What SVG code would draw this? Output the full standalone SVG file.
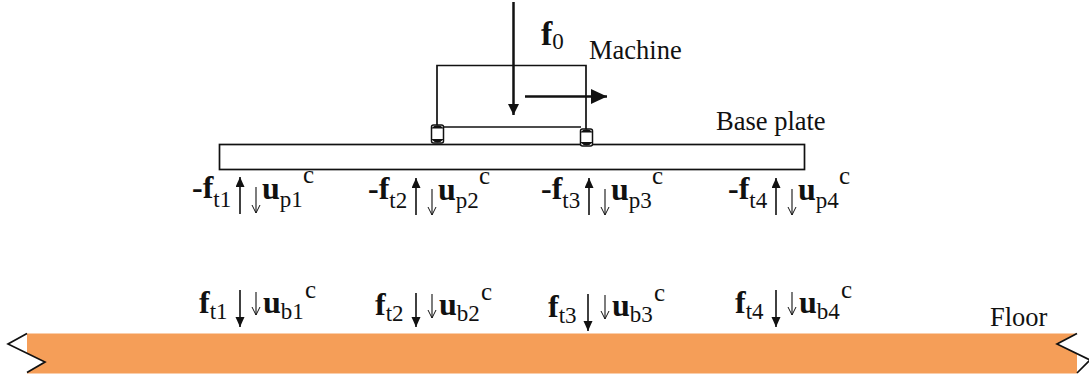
<svg xmlns="http://www.w3.org/2000/svg" width="1089" height="381" viewBox="0 0 1089 381">
<style>
text{font-family:"Liberation Serif","Times New Roman",serif;fill:#111}
.m{font-size:26.500px}
.b{font-size:32px;font-weight:bold}
.s{font-size:23px;font-weight:normal}
.c{font-size:25px}
.l{fill:none;stroke:#111;stroke-width:1.700}
.t{stroke:#111;stroke-width:1.600;fill:none}
.h{stroke:#111;stroke-width:1.100;fill:none}
</style>
<defs>
<marker id="big" markerUnits="userSpaceOnUse" markerWidth="18" markerHeight="16" refX="16" refY="7.500" orient="auto"><path d="M0 0L16 7.500L0 15Z" fill="#111"/></marker>
<marker id="head" markerUnits="userSpaceOnUse" markerWidth="13" markerHeight="13" refX="11" refY="5.500" orient="auto"><path d="M0 0L11 5.500L0 11Z" fill="#111"/></marker>
<marker id="med" markerUnits="userSpaceOnUse" markerWidth="12" markerHeight="12" refX="10" refY="4.500" orient="auto"><path d="M0 0L10 4.500L0 9Z" fill="#111"/></marker>
<marker id="thin" markerUnits="userSpaceOnUse" markerWidth="12" markerHeight="12" refX="9" refY="5" orient="auto"><path d="M1 1L9 5L1 9" fill="none" stroke="#111" stroke-width="1"/></marker>
</defs>
<g id="floor">
<path d="M27 333.500H1077L1057 344L1077 354V373.500H27V372.500L45 362L27 353Z" fill="#f59e58"/>
<path class="l" d="M27 333.500L8 344L45 362L27 372.500"/>
<path class="l" d="M1077 333.500L1057 344L1090 360L1077 373"/>
<text class="m" x="990" y="326">Floor</text>
</g>
<g id="base-plate">
<rect class="l" x="219.500" y="144.500" width="585" height="25" fill="#fff"/>
<text class="m" x="716" y="130">Base plate</text>
</g>
<g id="machine">
<path class="l" d="M437 128V65.500H586V130"/>
<path class="l" d="M443 127H581"/>
<text class="m" x="589" y="59">Machine</text>
</g>
<g id="mount-left">
<rect x="431.500" y="125" width="12" height="18" rx="2" fill="#fff" stroke="#111" stroke-width="1.500"/>
<path d="M431 128.500Q437.500 122 444 128.500ZM431 139Q437.500 146 444 139Z" fill="#111"/>
</g>
<g id="mount-right">
<rect x="580.500" y="129" width="12" height="17" rx="2" fill="#fff" stroke="#111" stroke-width="1.500"/>
<path d="M580 132.500Q586.500 126 593 132.500ZM580 142Q586.500 149 593 142Z" fill="#111"/>
</g>
<g id="connectors">
<path d="M513.500 2V115" stroke="#111" stroke-width="2.500" marker-end="url(#head)"/>
<path d="M525 96.500H607" stroke="#111" stroke-width="2.500" marker-end="url(#big)"/>
<path class="t" d="M240 214V177" marker-end="url(#med)"/>
<path class="t" d="M416 215V178" marker-end="url(#med)"/>
<path class="t" d="M589 215V178" marker-end="url(#med)"/>
<path class="t" d="M776 215V178" marker-end="url(#med)"/>
<path class="h" d="M256 187V213" marker-end="url(#thin)"/>
<path class="h" d="M432 189V215" marker-end="url(#thin)"/>
<path class="h" d="M605 189V215" marker-end="url(#thin)"/>
<path class="h" d="M792 189V215" marker-end="url(#thin)"/>
<path class="t" d="M240 290V327" marker-end="url(#med)"/>
<path class="t" d="M416 293V327" marker-end="url(#med)"/>
<path class="t" d="M588 294V331" marker-end="url(#med)"/>
<path class="t" d="M776 290V327" marker-end="url(#med)"/>
<path class="h" d="M256 292V315" marker-end="url(#thin)"/>
<path class="h" d="M432 294V318" marker-end="url(#thin)"/>
<path class="h" d="M605 295V319" marker-end="url(#thin)"/>
<path class="h" d="M792 292V315" marker-end="url(#thin)"/>
</g>
<g id="label-f0"><text class="b" x="541" y="45" style="font-size:34px">f<tspan class="s" dy="4">0</tspan></text></g>
<g id="label-p1"><text class="b" x="192" y="198">-f<tspan class="s" dy="9">t1</tspan></text><text class="b" x="262" y="199">u<tspan class="s" dy="8">p1</tspan></text><text class="c" x="303" y="183">c</text></g>
<g id="label-p2"><text class="b" x="368" y="199">-f<tspan class="s" dy="9">t2</tspan></text><text class="b" x="438" y="200">u<tspan class="s" dy="8">p2</tspan></text><text class="c" x="479" y="184">c</text></g>
<g id="label-p3"><text class="b" x="541" y="199">-f<tspan class="s" dy="9">t3</tspan></text><text class="b" x="611" y="200">u<tspan class="s" dy="8">p3</tspan></text><text class="c" x="652" y="184">c</text></g>
<g id="label-p4"><text class="b" x="728" y="199">-f<tspan class="s" dy="9">t4</tspan></text><text class="b" x="798" y="200">u<tspan class="s" dy="8">p4</tspan></text><text class="c" x="839" y="184">c</text></g>
<g id="label-b1"><text class="b" x="199" y="313">f<tspan class="s" dy="6">t1</tspan></text><text class="b" x="263" y="313">u<tspan class="s" dy="6">b1</tspan></text><text class="c" x="305" y="298">c</text></g>
<g id="label-b2"><text class="b" x="375" y="315">f<tspan class="s" dy="6">t2</tspan></text><text class="b" x="439" y="315">u<tspan class="s" dy="6">b2</tspan></text><text class="c" x="481" y="300">c</text></g>
<g id="label-b3"><text class="b" x="548" y="317">f<tspan class="s" dy="6">t3</tspan></text><text class="b" x="612" y="316">u<tspan class="s" dy="6">b3</tspan></text><text class="c" x="654" y="301">c</text></g>
<g id="label-b4"><text class="b" x="735" y="313">f<tspan class="s" dy="6">t4</tspan></text><text class="b" x="799" y="313">u<tspan class="s" dy="6">b4</tspan></text><text class="c" x="841" y="298">c</text></g>
</svg>
